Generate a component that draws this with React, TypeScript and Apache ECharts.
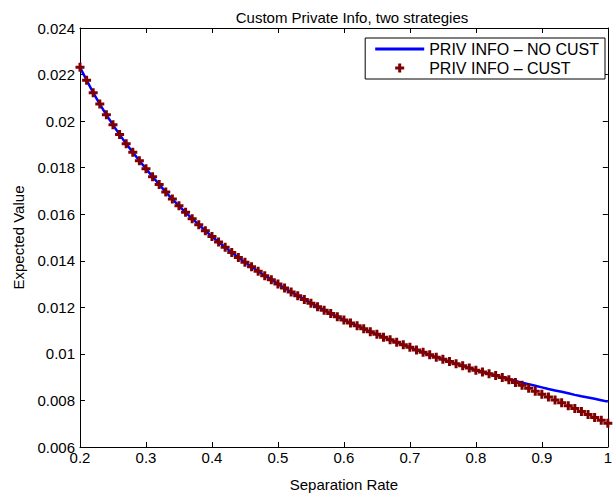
import React, { useEffect, useRef } from "react";
import * as echarts from "echarts";

const TITLE = "Custom Private Info, two strategies";
const X_NAME = "Separation Rate";
const Y_NAME = "Expected Value";
const SERIES_NAMES = ["PRIV INFO – NO CUST", "PRIV INFO – CUST"];

const SEP_RATE = [
  0.2, 0.21, 0.22, 0.23, 0.24, 0.25, 0.26, 0.27, 0.28, 0.29,
  0.3, 0.31, 0.32, 0.33, 0.34, 0.35, 0.36, 0.37, 0.38, 0.39,
  0.4, 0.41, 0.42, 0.43, 0.44, 0.45, 0.46, 0.47, 0.48, 0.49,
  0.5, 0.51, 0.52, 0.53, 0.54, 0.55, 0.56, 0.57, 0.58, 0.59,
  0.6, 0.61, 0.62, 0.63, 0.64, 0.65, 0.66, 0.67, 0.68, 0.69,
  0.7, 0.71, 0.72, 0.73, 0.74, 0.75, 0.76, 0.77, 0.78, 0.79,
  0.8, 0.81, 0.82, 0.83, 0.84, 0.85, 0.86, 0.87, 0.88, 0.89,
  0.9, 0.91, 0.92, 0.93, 0.94, 0.95, 0.96, 0.97, 0.98, 0.99,
  1.0,
];

const NO_CUST = [
  0.02231, 0.02176, 0.02122, 0.02073, 0.02027, 0.01984, 0.01942, 0.01903, 0.01866, 0.0183,
  0.01795, 0.01761, 0.01728, 0.01695, 0.01665, 0.01636, 0.01608, 0.01581, 0.01555, 0.01529,
  0.01504, 0.01481, 0.01458, 0.01436, 0.01414, 0.01394, 0.01374, 0.01355, 0.01336, 0.01319,
  0.013, 0.01283, 0.01266, 0.0125, 0.01234, 0.01218, 0.01203, 0.01188, 0.01173, 0.0116,
  0.01146, 0.01133, 0.01121, 0.01108, 0.01095, 0.01084, 0.01072, 0.01061, 0.0105, 0.01039,
  0.01028, 0.01017, 0.01007, 0.00996, 0.00986, 0.00977, 0.00967, 0.00958, 0.00949, 0.00939,
  0.0093, 0.00922, 0.00915, 0.00907, 0.00899, 0.00892, 0.00884, 0.00876, 0.0087, 0.00863,
  0.00856, 0.00849, 0.00843, 0.00837, 0.00831, 0.00824, 0.00818, 0.00813, 0.00807, 0.00801,
  0.00795,
];

const CUST = [
  0.02231, 0.02176, 0.02122, 0.02073, 0.02027, 0.01984, 0.01942, 0.01903, 0.01866, 0.0183,
  0.01795, 0.01761, 0.01728, 0.01695, 0.01665, 0.01636, 0.01608, 0.01581, 0.01555, 0.01529,
  0.01504, 0.01481, 0.01458, 0.01436, 0.01414, 0.01394, 0.01374, 0.01355, 0.01336, 0.01319,
  0.013, 0.01283, 0.01266, 0.0125, 0.01234, 0.01218, 0.01203, 0.01188, 0.01173, 0.0116,
  0.01146, 0.01133, 0.01121, 0.01108, 0.01095, 0.01084, 0.01072, 0.01061, 0.0105, 0.01039,
  0.01028, 0.01017, 0.01007, 0.00996, 0.00986, 0.00977, 0.00967, 0.00958, 0.00949, 0.00939,
  0.0093, 0.00922, 0.00915, 0.00907, 0.00899, 0.00889, 0.00877, 0.00865, 0.00852, 0.0084,
  0.00827, 0.00815, 0.00802, 0.0079, 0.00777, 0.00765, 0.00752, 0.0074, 0.00727, 0.00715,
  0.00702,
];

const X_MIN = 0.2;
const X_MAX = 1;
const X_STEP = 0.1;
const Y_MIN = 0.006;
const Y_MAX = 0.024;
const Y_STEP = 0.002;

const FONT = "'Liberation Sans', Arial, Helvetica, sans-serif";
const PLUS = "path://M3,0L6,0L6,3L9,3L9,6L6,6L6,9L3,9L3,6L0,6L0,3L3,3Z";
const LINE_ICON = "path://M0,0L49,0L49,3L0,3Z";

export default function App() {
  const ref = useRef<HTMLDivElement>(null);

  useEffect(() => {
    if (!ref.current) return;
    const chart = echarts.init(ref.current, undefined, { renderer: "svg" });
    const axisLine = { show: true, onZero: false, lineStyle: { color: "#000", width: 1 } };
    const tick = { show: true, inside: true, length: 5, lineStyle: { color: "#000", width: 1 } };
    const label = { color: "#000", fontSize: 15, fontFamily: FONT };

    chart.setOption({
      animation: false,
      backgroundColor: "#fff",
      textStyle: { fontFamily: FONT },
      title: {
        text: TITLE,
        left: 347,
        textAlign: "center",
        top: 5,
        textStyle: { fontSize: 15, fontWeight: "normal", color: "#000", fontFamily: FONT },
      },
      grid: { left: 80, right: 2, top: 28, bottom: 48, containLabel: false },
      legend: {
        orient: "vertical",
        right: 10,
        top: 38,
        backgroundColor: "#fff",
        borderColor: "#000",
        borderWidth: 1,
        padding: [3, 6, 3, 10],
        itemWidth: 49,
        itemHeight: 9,
        itemGap: 3,
        symbolKeepAspect: true,
        textStyle: { fontSize: 16, color: "#000", fontFamily: FONT },
        data: [
          { name: SERIES_NAMES[0], icon: LINE_ICON },
          { name: SERIES_NAMES[1] },
        ],
      },
      xAxis: [
        {
          type: "value",
          min: X_MIN,
          max: X_MAX,
          interval: X_STEP,
          axisLine,
          axisTick: tick,
          axisLabel: { ...label, margin: 3 },
          splitLine: { show: false },
          name: X_NAME,
          nameLocation: "middle",
          nameGap: 30,
          nameTextStyle: { fontSize: 15, color: "#000", fontFamily: FONT },
        },
        {
          type: "value",
          position: "top",
          min: X_MIN,
          max: X_MAX,
          interval: X_STEP,
          axisLine,
          axisTick: tick,
          axisLabel: { show: false },
          splitLine: { show: false },
        },
      ],
      yAxis: [
        {
          type: "value",
          min: Y_MIN,
          max: Y_MAX,
          interval: Y_STEP,
          axisLine,
          axisTick: tick,
          axisLabel: { ...label, margin: 5 },
          splitLine: { show: false },
          name: Y_NAME,
          nameLocation: "middle",
          nameGap: 54,
          nameTextStyle: { fontSize: 15, color: "#000", fontFamily: FONT },
        },
        {
          type: "value",
          position: "right",
          min: Y_MIN,
          max: Y_MAX,
          interval: Y_STEP,
          axisLine,
          axisTick: tick,
          axisLabel: { show: false },
          splitLine: { show: false },
        },
      ],
      series: [
        {
          name: SERIES_NAMES[0],
          type: "line",
          xAxisIndex: 0,
          yAxisIndex: 0,
          data: SEP_RATE.map((x, i) => [x, NO_CUST[i]]),
          symbol: "none",
          lineStyle: { color: "#0000ff", width: 2.5 },
          itemStyle: { color: "#0000ff" },
          z: 2,
        },
        {
          name: SERIES_NAMES[1],
          type: "scatter",
          xAxisIndex: 0,
          yAxisIndex: 0,
          data: SEP_RATE.map((x, i) => [x, CUST[i]]),
          symbol: PLUS,
          symbolSize: 9,
          itemStyle: { color: "#800000", opacity: 1 },
          z: 3,
        },
      ],
    });
    return () => chart.dispose();
  }, []);

  return (
    <div
      ref={ref}
      style={{ position: "fixed", left: 0, top: 0, width: 615, height: 497, background: "#fff" }}
    />
  );
}
